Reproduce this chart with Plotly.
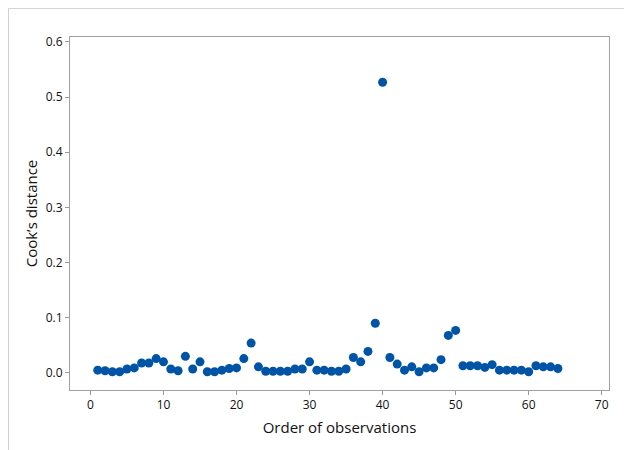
import plotly.graph_objects as go

observation = list(range(1, 65))
cooks_distance = [
    0.005, 0.004, 0.002, 0.002, 0.007, 0.009, 0.018, 0.018, 0.026, 0.020,
    0.007, 0.004, 0.030, 0.007, 0.020, 0.002, 0.002, 0.005, 0.008, 0.009,
    0.026, 0.054, 0.011, 0.003, 0.003, 0.003, 0.003, 0.007, 0.007, 0.020,
    0.005, 0.005, 0.003, 0.003, 0.007, 0.028, 0.020, 0.039, 0.090, 0.527,
    0.028, 0.016, 0.005, 0.011, 0.002, 0.009, 0.009, 0.024, 0.068, 0.077,
    0.013, 0.013, 0.013, 0.010, 0.015, 0.005, 0.005, 0.005, 0.005, 0.002,
    0.013, 0.011, 0.011, 0.008,
]
x_ticks = [0, 10, 20, 30, 40, 50, 60, 70]
y_ticks = [0.0, 0.1, 0.2, 0.3, 0.4, 0.5, 0.6]

fig = go.Figure()
fig.add_trace(go.Scatter(
    x=observation, y=cooks_distance, mode="markers",
    marker=dict(color="#0054A6", size=9, line=dict(width=0)),
    showlegend=False,
))

font = "Open Sans, Noto Sans, sans-serif"
fig.update_layout(
    width=632, height=450,
    margin=dict(l=62, r=31, t=29, b=68),
    paper_bgcolor="white", plot_bgcolor="white",
    font=dict(family=font, color="#111111"),
    xaxis=dict(
        range=[-2.8, 71], tickvals=x_ticks, ticktext=[str(v) for v in x_ticks],
        ticks="outside", ticklen=4, tickcolor="#999999", showgrid=False, zeroline=False,
        showline=True, linecolor="#a0a0a0", mirror=True, linewidth=1,
        tickfont=dict(size=12),
        title=dict(text="Order of observations", font=dict(size=15), standoff=10),
    ),
    yaxis=dict(
        range=[-0.031, 0.609], tickvals=y_ticks, ticktext=[f"{v:.1f}" for v in y_ticks],
        ticks="outside", ticklen=4, tickcolor="#999999", showgrid=False, zeroline=False,
        showline=True, linecolor="#a0a0a0", mirror=True, linewidth=1,
        tickfont=dict(size=12),
        title=dict(text="Cook’s distance", font=dict(size=15), standoff=4),
    ),
    shapes=[
        dict(type="line", xref="paper", yref="paper", x0=-0.1141, x1=-0.1141, y0=-0.196, y1=1.081,
             line=dict(color="#d0d0d0", width=1)),
        dict(type="line", xref="paper", yref="paper", x0=-0.1141, x1=1.0575, y0=1.081, y1=1.081,
             line=dict(color="#d0d0d0", width=1)),
    ],
)

fig.write_html("out.html")
